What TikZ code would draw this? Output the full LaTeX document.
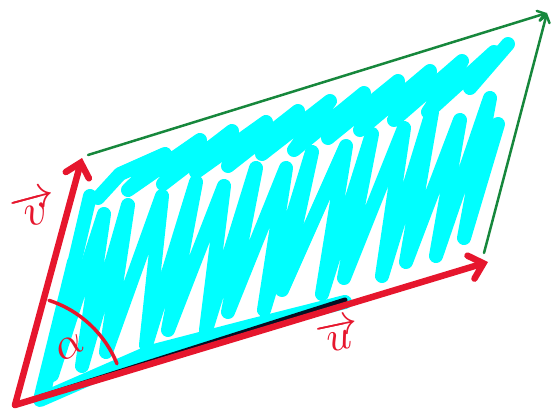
\documentclass[tikz,border=0pt]{standalone}
\usepackage{graphicx}
\usetikzlibrary{arrows.meta}
\definecolor{redv}{RGB}{230,22,45}
\definecolor{greenv}{RGB}{22,135,60}
\definecolor{cyanv}{RGB}{0,255,255}
\definecolor{inkv}{RGB}{5,15,35}
\begin{document}
\begin{tikzpicture}[x=1pt,y=-1pt,line cap=round,line join=round,
  scribble/.style={draw=cyanv,line width=14pt},
  redvec/.style={draw=redv,line width=6.5pt,-{Straight Barb[length=13pt,width=24pt,line cap=round]}},
  greenvec/.style={draw=greenv,line width=2.5pt,-{Straight Barb[length=7pt,width=10pt,line cap=round]}},
  lbl/.style={text=redv,inner sep=0pt}]
\useasboundingbox (0,0) rectangle (552,412);
% key points
\coordinate (O) at (15,405);
\coordinate (U) at (488,262);
\coordinate (V) at (82,158);
\coordinate (Vs) at (88,155);
\coordinate (Us) at (484,253);
\coordinate (W) at (547,13);
\coordinate (K1) at (40,397);
\coordinate (K2) at (345,300);
% cyan scribble, top band
\draw[scribble] (98,198) -- (120,174) -- (165,154) -- (128,190) -- (200,140) -- (163,184)
  -- (232,131) -- (196,172) -- (266,122) -- (228,166) -- (298,111) -- (262,154)
  -- (330,101) -- (294,150) -- (364,93) -- (328,138) -- (398,81) -- (360,130)
  -- (430,71) -- (394,120) -- (462,61) -- (428,112) -- (494,52) -- (470,88) -- (508,44);
% cyan scribble, lower band
\draw[scribble] (52,375) -- (104,214) -- (82,366) -- (128,205) -- (106,352) -- (162,196)
  -- (146,345) -- (196,182) -- (168,330) -- (224,186) -- (206,330) -- (256,168)
  -- (228,312) -- (286,168) -- (264,310) -- (312,152) -- (282,290) -- (346,146)
  -- (322,294) -- (372,134) -- (344,278) -- (404,128) -- (382,276) -- (432,112)
  -- (406,262) -- (460,120) -- (436,256) -- (490,98) -- (464,238) -- (498,124);
% cyan scribble, left edge and bottom stroke
\draw[scribble] (90,196) -- (44,392) -- (74,262) -- (40,400) -- (150,352) -- (250,326) -- (345,302);
% dark stroke under the u vector
\draw[inkv,line width=5pt] (K1) -- (K2);
% green sides
\draw[greenvec] (Vs) -- (W);
\draw[greenvec] (Us) -- (W);
% red vectors
\draw[redvec] (O) -- (U);
\draw[redvec] (O) -- (V);
% angle arc
\draw[redv,line width=3.5pt] (O) ++(-72:110) arc[start angle=-72,end angle=-22,radius=110];
% labels
\node[lbl,rotate=15] (vlabel) at (35,209) {\scalebox{4.6}{$\overrightarrow{\,v\,}$}};
\node[lbl,rotate=12] (ulabel) at (338,335) {\scalebox{4.3}{$\overrightarrow{\,u\,}$}};
\node[lbl,rotate=30] (alabel) at (70,347) {\scalebox{4.4}{$\alpha$}};
\end{tikzpicture}
\end{document}
